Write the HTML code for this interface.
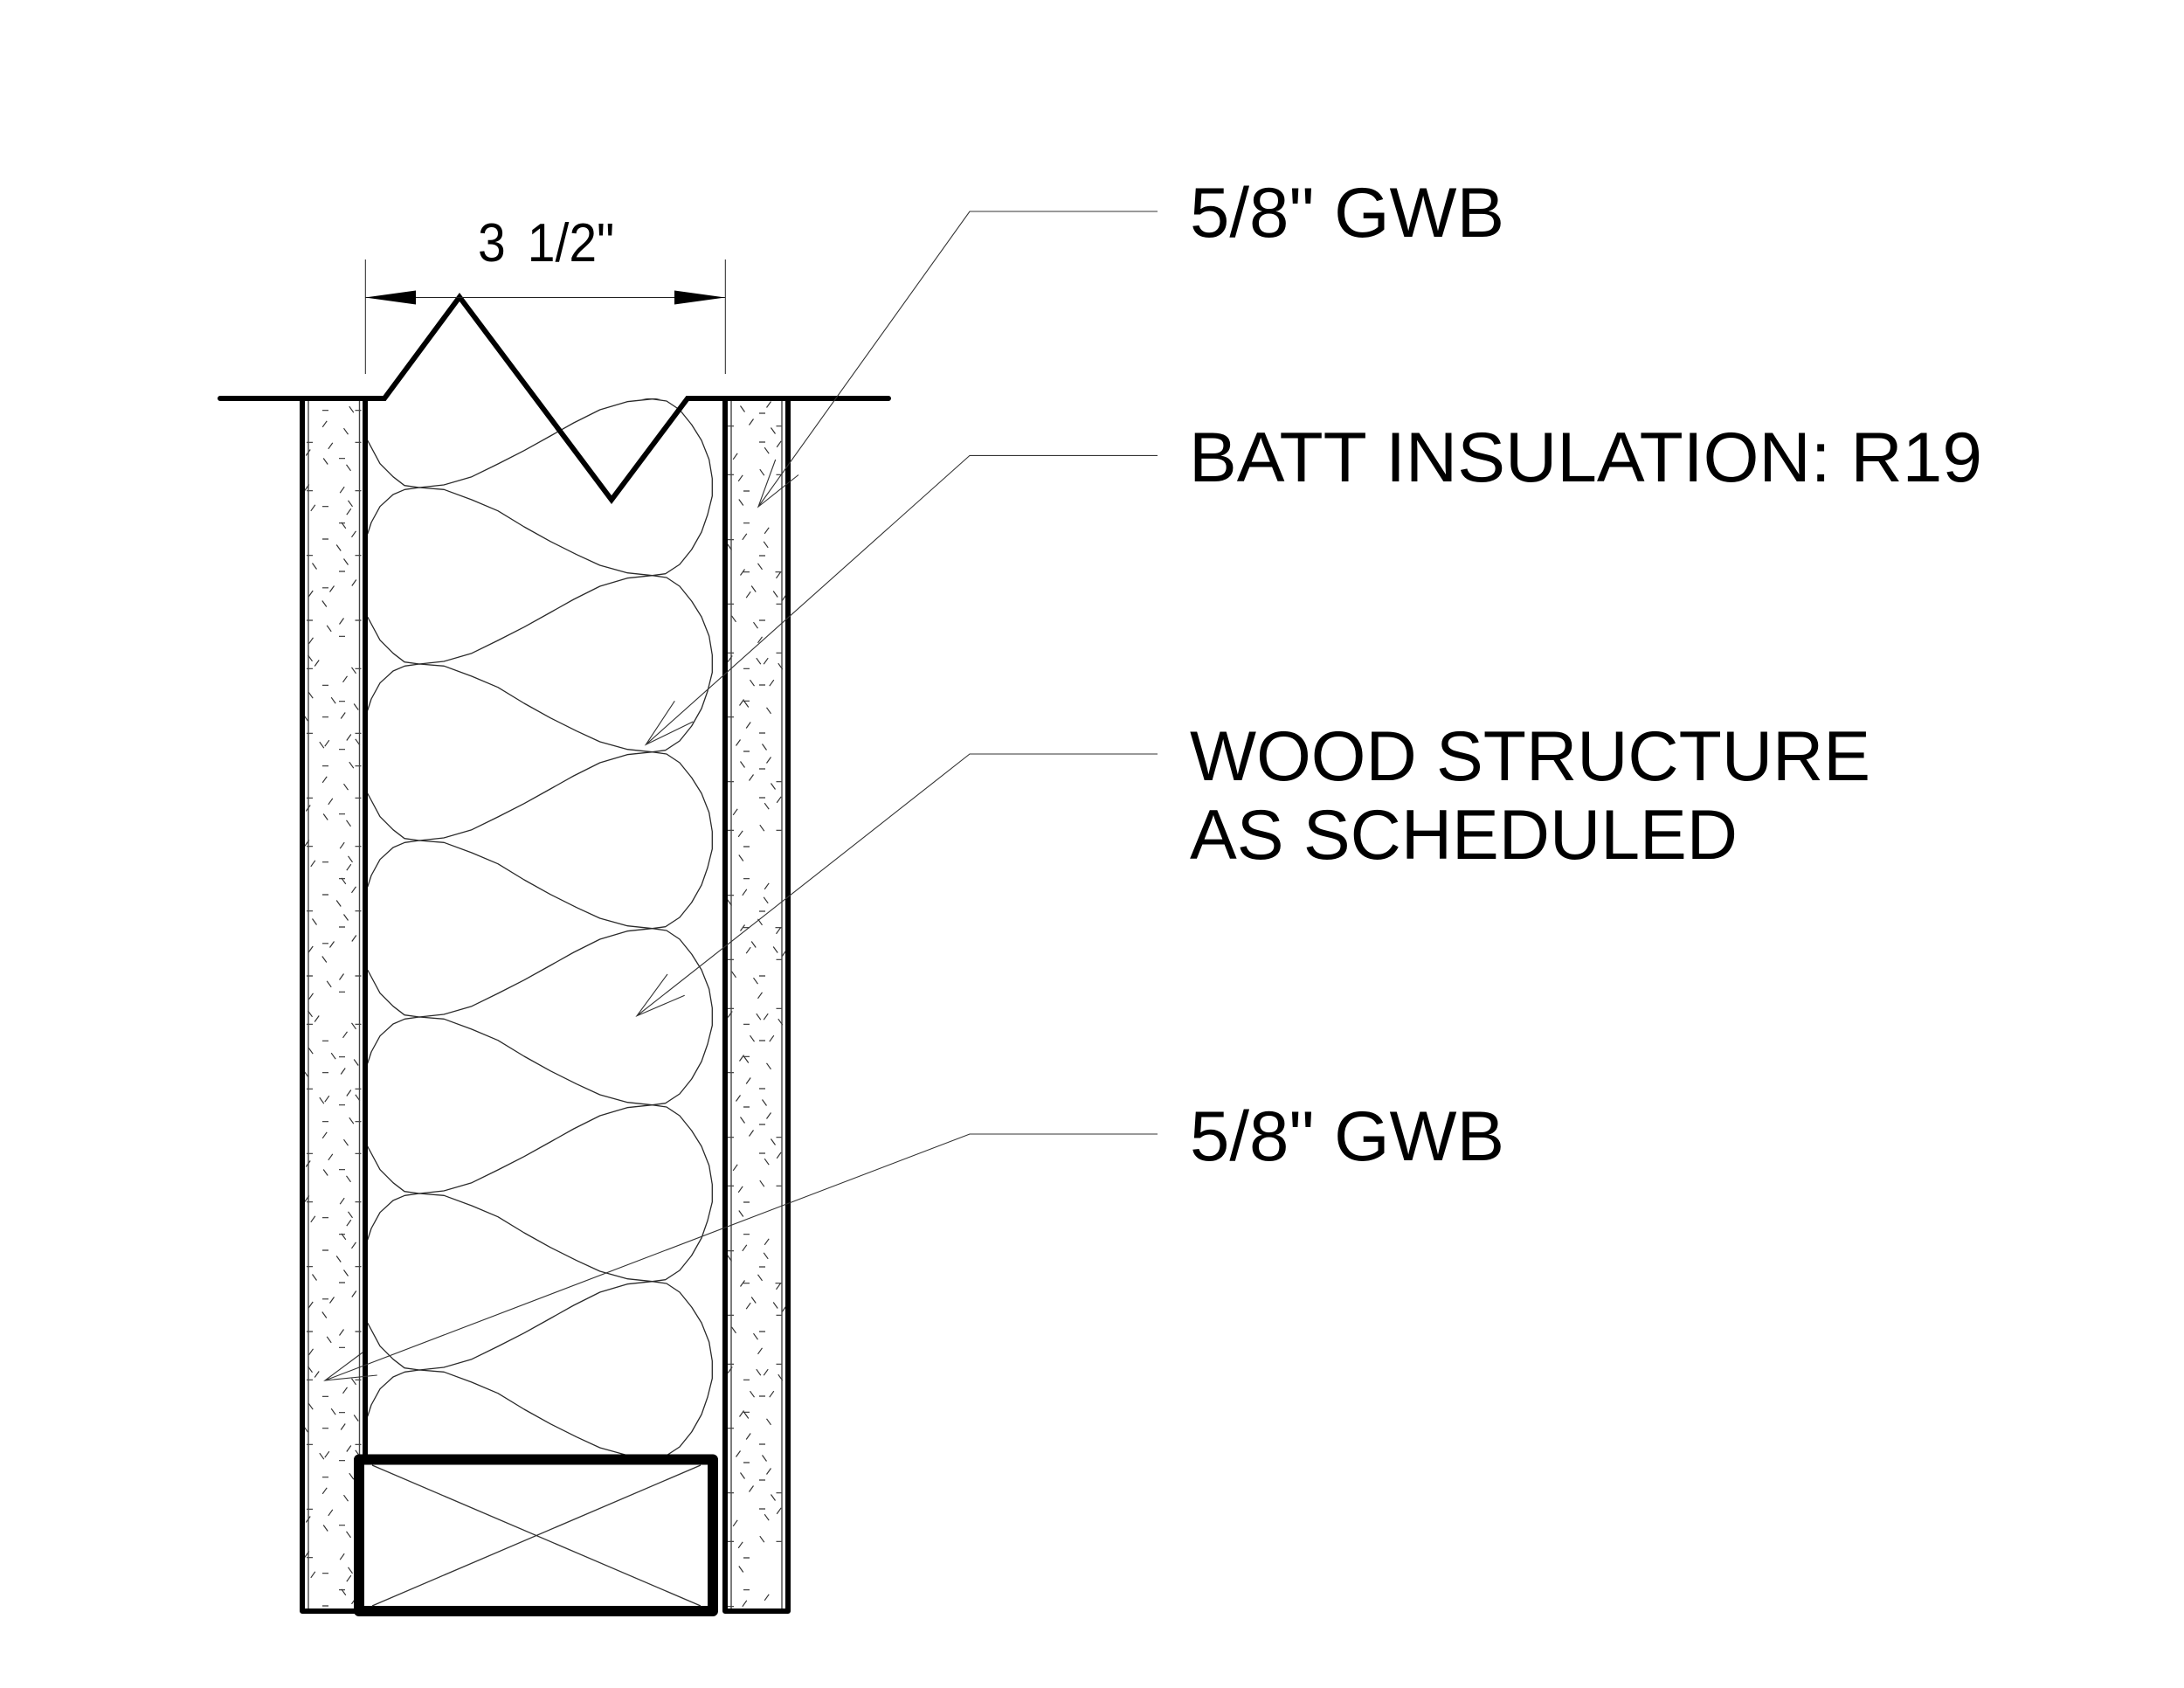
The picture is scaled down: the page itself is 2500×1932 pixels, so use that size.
<!DOCTYPE html>
<html>
<head>
<meta charset="utf-8">
<style>
html,body{margin:0;padding:0;background:#fff;width:2500px;height:1932px;overflow:hidden}
svg{display:block}
text{font-family:"Liberation Sans",Arial,sans-serif;fill:#000}
</style>
</head>
<body>
<svg xmlns="http://www.w3.org/2000/svg" width="2500" height="1932" viewBox="0 0 2500 1932">
<defs>
<clipPath id="batt"><rect x="419" y="456" width="411" height="1210"/></clipPath>
<clipPath id="wl"><rect x="347" y="459" width="72" height="1382"/></clipPath>
<clipPath id="wr"><rect x="830" y="459" width="74" height="1382"/></clipPath>
<polyline id="u" fill="none" stroke="#2a2a2a" stroke-width="1.3" stroke-linejoin="round" points="420.7,53.3 425,40 435,21.7 450,8 463.3,2.3 480,0 508.3,2.3 540,14 570,26.7 600,45 630,61.7 660,76.7 686.7,89 718.3,97.7 746.7,100.7 763,103 778,113 791.7,130 803,148 811.7,170 815.3,191.7 815.3,211.7 810,233 803,253 791.7,273 778,290 761.7,300.7 746.7,302.7 718,305.7 686.7,315 656.7,330 630,345 600,361.7 570,377 540,391.7 508,401 480,404 463,401.7 450,391.7 435,376.7 420.7,350"/>
<path id="tl" fill="none" stroke="#333" stroke-width="1.2" d="
M388 728.3h7M369 784.3h7M388 802.7h7M369 820.7h7M388 857.7h7M369 876.7h7M388 931.7h7M369 986.7h7M388 1005.7h7M369 1024h7M369 1079.8h7M388 1061h7
M351 710h7M406.5 710h7M351 765.3h7M406.5 765.3h7M351 839.3h7M406.5 839.3h7M351 913.3h7M406.5 913.3h7M351 968.7h7M406.5 968.7h7M406.5 876.7h7M351 1042.7h7M406.5 1042.7h7
M388.5 714.5l5-7M353.5 736.8l5-7M360.2 762.5l5-7M392.5 780.8l5-7M390.2 822.5l5-7M396.8 847.5l5-7M371.8 854.2l5-7M369.2 895.8l5-7M375.8 920.8l5-7M389.2 971.2l5-7M355.8 991.8l5-7M396.8 996.2l5-7M402.5 1021.8l5-7M350.2 928.5l5-7M348.8 968.5l5-7M377.5 1084.5l5-7M402.8 1077.5l5-7M353.2 1090l5-7
M374.2 715.8l5 7M352.5 749.8l5 7M402.5 763.8l5 7M353.2 792.2l5 7M379.2 798.2l5 7M405.2 805.5l5 7M365.8 849.2l5 7M406.8 845.8l5 7M399.8 872.2l5 7M393.5 897.2l5 7M370.2 931.5l5 7M396.5 938.8l5 7M398.5 979.8l5 7M390.8 1004.8l5 7M385.2 1030.5l5 7M347.5 818.2l5 7M368.8 1094.5l5 7M393.5 1046.5l5 7M357.5 1051.5l5 7"/>
<path id="tr" fill="none" stroke="#333" stroke-width="1.2" d="
M869 506h7M851 562h7M851 598.7h7M869 636h7M851 654.7h7M887.5 654.7h7M869 710h7M851 765.3h7M869 784h7M851 802.3h7M869 839h7M851 860h7M869 880h7
M833 543.3h7M888.5 543.3h7M833 617.7h7M833 691.3h7M888.5 691.3h7M833 747.3h7M888.5 747.3h7M833 820.7h7M833 894.7h7M888.5 894.7h7
M839.2 525.8l5-7M889.2 511.8l5-7M845.2 550.8l5-7M849.8 617.8l5-7M875.2 610.8l5-7M847.5 658.5l5-7M888.5 661.8l5-7M854.2 684.2l5-7M895.2 687.5l5-7M867.5 735.8l5-7M874.2 760.2l5-7M833.2 757.5l5-7M880.8 785.2l5-7M846.5 807.5l5-7M854.2 833.5l5-7M842.5 853.5l5-7M877.5 873.5l5-7M857.5 893.5l5-7
M875.2 512.2l5 7M869.8 537.2l5 7M845.8 571.5l5 7M832.5 622.5l5 7M874.2 619.8l5 7M867.5 644.8l5 7M860.2 670.5l5 7M885.2 676.5l5 7M837.5 704.8l5 7M862.5 712.2l5 7M865.8 753.2l5 7M890.8 759.2l5 7M858.5 778.2l5 7M851.8 802.5l5 7M877.5 809.8l5 7M847.5 871.5l5 7M872.5 851.5l5 7M882.5 896.5l5 7"/>
</defs>

<rect width="2500" height="1932" fill="#fff"/>

<!-- gypsum speckle -->
<g clip-path="url(#wl)">
<use href="#tl" y="-407"/><use href="#tl" y="0"/><use href="#tl" y="407"/><use href="#tl" y="814"/>
</g>
<g clip-path="url(#wr)">
<use href="#tr" y="-407"/><use href="#tr" y="0"/><use href="#tr" y="407"/><use href="#tr" y="814"/>
<path transform="translate(0,1221)" fill="none" stroke="#333" stroke-width="1.2" d="M869 506h7M851 562h7M851 598.7h7M833 543.3h7M888.5 543.3h7M833 617.7h7M839.2 525.8l5-7M889.2 511.8l5-7M845.2 550.8l5-7M849.8 617.8l5-7M875.2 610.8l5-7M875.2 512.2l5 7M869.8 537.2l5 7M845.8 571.5l5 7"/>
</g>

<!-- batt insulation -->
<g clip-path="url(#batt)">
<use href="#u" y="154"/><use href="#u" y="356"/><use href="#u" y="558"/><use href="#u" y="760"/>
<use href="#u" y="962"/><use href="#u" y="1164"/><use href="#u" y="1366"/>
<polyline transform="translate(0,1568)" fill="none" stroke="#2a2a2a" stroke-width="1.3" stroke-linejoin="round" points="420.7,53.3 425,40 435,21.7 450,8 463.3,2.3 480,0 508.3,2.3 540,14 570,26.7 600,45 630,61.7 660,76.7 686.7,89 718.3,97.7"/>
</g>

<!-- thin wall lines -->
<g stroke="#444" stroke-width="1.4" fill="none">
<path d="M353 459V1841M411.5 459V1666M837 459V1841M895 459V1841"/>
</g>

<!-- thick wall lines -->
<g stroke="#000" stroke-width="6" fill="none" stroke-linecap="round" stroke-linejoin="round">
<path d="M346 456V1844H407M418 456V1666M830 456V1844H902V456"/>
<path d="M252 456H440L526 340L700 572L787 456H1017" stroke-linejoin="miter"/>
</g>

<!-- wood stud -->
<rect x="411" y="1670.5" width="405" height="173.5" fill="#fff" stroke="#000" stroke-width="12" stroke-linejoin="round"/>
<path d="M426 1677L802 1838M802 1677L426 1838" stroke="#333" stroke-width="1.3" fill="none"/>

<!-- dimension -->
<g stroke="#222" stroke-width="1" fill="none">
<path d="M418.3 297V428M830.3 297V428M418 340.5H830"/>
</g>
<path d="M418 340.5L476 332.5V348.5ZM830 340.5L772 332.5V348.5Z" fill="#000"/>
<text transform="translate(547,299) scale(.92,1)" font-size="62">3<tspan dx="10"> 1/2"</tspan></text>

<!-- leaders -->
<g stroke="#333" stroke-width="1.1" fill="none">
<path d="M1325 242H1110L868 580M887.7 526L868 580L914 543.5"/>
<path d="M1325 521.4H1110L739.3 852.3M772.3 802.3L739.3 852.3L793.3 826"/>
<path d="M1325 863H1110L729 1162.7M764 1115L729 1162.7L783.7 1139.3"/>
<path d="M1325 1298H1110L372 1580M415 1548L372 1580L431.7 1574"/>
</g>

<!-- labels -->
<text x="1362" y="271" font-size="81" textLength="360" lengthAdjust="spacingAndGlyphs">5/8" GWB</text>
<text x="1361" y="551" font-size="81" textLength="908" lengthAdjust="spacingAndGlyphs">BATT INSULATION: R19</text>
<text x="1362" y="893" font-size="81" textLength="779" lengthAdjust="spacingAndGlyphs">WOOD STRUCTURE</text>
<text x="1362" y="983" font-size="81" textLength="627" lengthAdjust="spacingAndGlyphs">AS SCHEDULED</text>
<text x="1362" y="1328" font-size="81" textLength="360" lengthAdjust="spacingAndGlyphs">5/8" GWB</text>
</svg>
</body>
</html>
